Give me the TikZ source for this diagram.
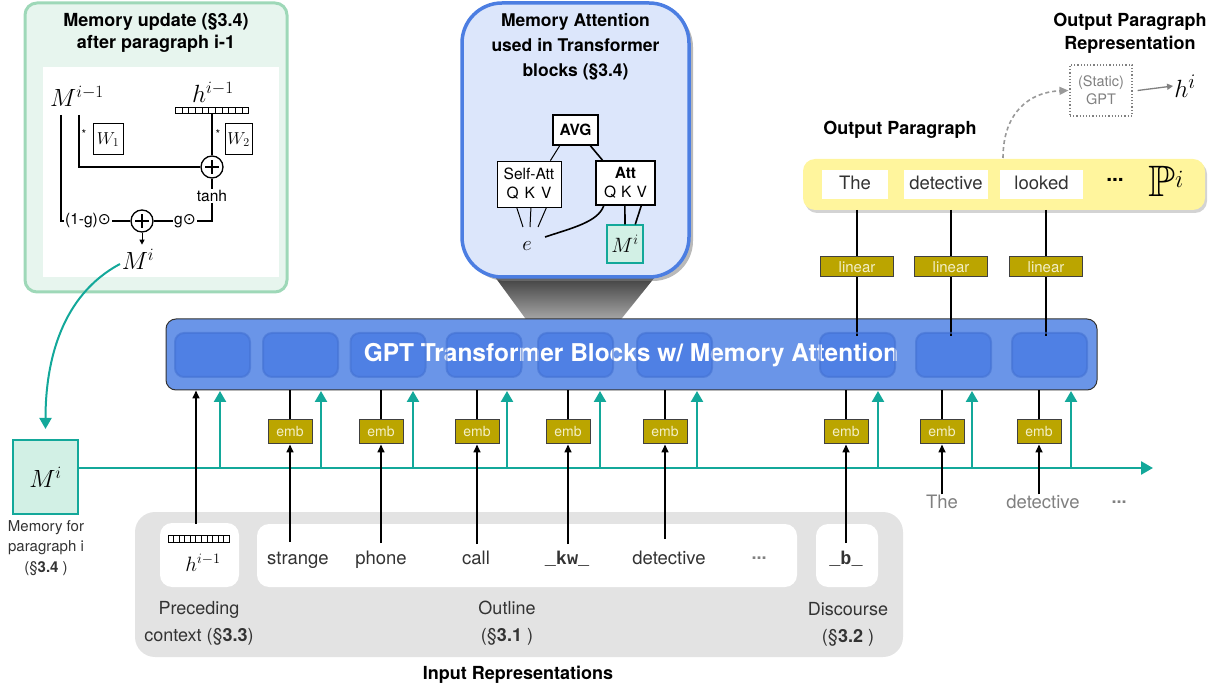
\documentclass[tikz,border=0pt]{standalone}
\usepackage{fontspec}
\setmainfont{TeX Gyre Heros}
\setmonofont{Liberation Mono}
\newfontfamily\dejavu{DejaVu Sans}
\usepackage{amssymb}
\usetikzlibrary{arrows.meta,shadows,calc}
\newcommand{\fsz}[2]{\fontsize{#1}{#2}\selectfont}
\newcommand{\middots}{\raisebox{0.28em}{...}}
\newcommand{\hadam}{{\dejavu ⊙}}
\definecolor{tealc}{HTML}{13A89A}
\definecolor{mgreenfill}{HTML}{E7F5EE}
\definecolor{mgreenbd}{HTML}{9ED8B8}
\definecolor{mboxfill}{HTML}{D2F0E5}
\definecolor{barfill}{HTML}{6A95E8}
\definecolor{blockfill}{HTML}{4F80E4}
\definecolor{blockbd}{HTML}{4472D2}
\definecolor{attfill}{HTML}{DCE6FB}
\definecolor{attbd}{HTML}{4C7EE2}
\definecolor{embfill}{HTML}{BBA500}
\definecolor{embtext}{HTML}{F3EFC6}
\definecolor{yelfill}{HTML}{FFF59D}
\definecolor{grayarea}{HTML}{E3E3E3}
\definecolor{wordc}{HTML}{333333}
\definecolor{lgtext}{HTML}{808080}
\tikzset{
  tarr/.style={draw=tealc,line width=2.4,-{Triangle[length=11pt,width=12pt]}},
  tline/.style={draw=tealc,line width=2.6},
  barr/.style={draw=black,line width=1.6,-{Triangle[length=8pt,width=7pt]}},
  bline/.style={draw=black,line width=1.6},
  thinln/.style={draw=black,line width=1.2},
  embbox/.style={draw=black!75,line width=1,fill=embfill,text=embtext,minimum width=44,minimum height=24,inner sep=0,font=\fsz{14}{16}},
  linbox/.style={embbox,minimum width=73,minimum height=20,font=\fsz{15}{17}},
  blk/.style={fill=blockfill,rounded corners=9,minimum width=75,minimum height=44,inner sep=0},
  blkbd/.style={draw=blockbd,line width=2,rounded corners=9,minimum width=75,minimum height=44,inner sep=0,draw opacity=0.6},
  word/.style={text=wordc,font=\fsz{18.5}{20},inner sep=1,text height=13,text depth=3.7},
  gword/.style={word,text=lgtext},
  ttl/.style={font=\bfseries\fsz{18}{22},align=center,inner sep=0},
  captxt/.style={text=wordc,font=\fsz{18}{27},align=center,inner sep=0},
  wbox/.style={fill=white,rounded corners=12,inner sep=0},
  mathn/.style={inner sep=1,font=\fsz{21}{24}},
  oplus/.style={circle,draw,line width=1.3,minimum size=22,inner sep=0,fill=white,
    path picture={\draw[line width=1.3] ([xshift=-7pt]path picture bounding box.center) -- ([xshift=7pt]path picture bounding box.center) ([yshift=-7pt]path picture bounding box.center) -- ([yshift=7pt]path picture bounding box.center);}},
  hvec/.style={draw,line width=0.8,inner sep=0,minimum height=6,fill=white,
    path picture={\foreach \k in {1,...,10}{\draw[line width=0.6] ($(path picture bounding box.south west)!\k/11!(path picture bounding box.south east)$) -- ($(path picture bounding box.north west)!\k/11!(path picture bounding box.north east)$);}}},
  wmat/.style={draw,line width=1,minimum width=30,minimum height=31,inner sep=0,font=\fsz{18}{20}},
  smalltxt/.style={font=\fsz{15.5}{18},inner sep=1},
}
\begin{document}
\begin{tikzpicture}[x=1pt,y=-1pt]
\useasboundingbox (0,0) rectangle (1224,692);

% ---------------- memory update box ----------------
\node[draw=mgreenbd,fill=mgreenfill,line width=3,rounded corners=12,minimum width=262,minimum height=289,inner sep=0] (mub) at (156,147.5) {};
\node[ttl] (mut) at (156,33) {Memory update (§3.4)\\after paragraph i-1};
\node[fill=white,minimum width=236,minimum height=210,inner sep=0] (muw) at (161,172) {};
\node[mathn,font=\fsz{24}{26}] (mprev) at (77,96) {$M^{i-1}$};
\node[mathn,font=\fsz{24}{26}] (hprev) at (213,92) {$h^{i-1}$};
\node[hvec,minimum width=73] (hv1) at (212,110) {};
\node[wmat] (w1) at (108,139.5) {$W_1$};
\node[wmat,minimum width=27] (w2) at (238.5,139.5) {$W_2$};
\node[inner sep=0,font=\fsz{12}{12}] (st1) at (84,134) {*};
\node[inner sep=0,font=\fsz{12}{12}] (st2) at (218,134) {*};
\node[oplus] (op1) at (212,167) {};
\node[smalltxt] (tanh) at (212,196) {tanh};
\node[oplus] (op2) at (142,221) {};
\node[smalltxt] (omg) at (88,221) {(1-g)\hadam};
\node[smalltxt] (gd) at (185,221) {g\hadam};
\node[mathn,font=\fsz{23}{25}] (mi1) at (138,259) {$M^i$};
\coordinate (ma) at (61,115);
\coordinate (mb) at (79,115);
\draw[thinln] (ma) |- (omg.west);
\draw[thinln] (mb) |- (op1.west);
\draw[thinln] (hv1.south) -- (op1.north);
\draw[thinln] (op1.south) -- (tanh.north);
\draw[thinln] (tanh.south) |- (gd.east);
\draw[thinln] (omg.east) -- (op2.west);
\draw[thinln] (op2.east) -- (gd.west);
\draw[line width=1,-{Triangle[length=5pt,width=5pt]}] (op2.south) -- ($(op2.south)+(0,12)$);

% ---------------- memory box left ----------------
\node[draw=tealc,fill=mboxfill,line width=2,minimum width=65,minimum height=74,inner sep=0,font=\fsz{25}{27}] (mbox) at (45.5,477) {$M^i$};
\node[text=wordc,font=\fsz{15}{20.5},align=center,inner sep=0] (mcap) at (46,548) {Memory for\\paragraph i\\(§\textbf{3.4} )};
\coordinate (cstart) at (120,264);
\coordinate (cend) at (45.5,429);
\draw[draw=tealc,line width=2,-{Triangle[length=11pt,width=12pt]}] (cstart) .. controls (62,295) and (45.5,360) .. (cend);

% ---------------- attention zoom ----------------
\shade[top color=black!75,bottom color=black!22] (495,277) -- (655,277) -- (610,333) -- (536,333) -- cycle;
\node[draw=attbd,fill=attfill,line width=3.5,rounded corners=40,minimum width=227,minimum height=274,inner sep=0,
  drop shadow={shadow xshift=4pt,shadow yshift=-4pt,opacity=0.55}] (attb) at (575.5,140) {};
\node[ttl,font=\bfseries\fsz{17.5}{22}] (at1) at (575.5,22) {Memory Attention};
\node[ttl,font=\bfseries\fsz{17.5}{22}] (at2) at (575.5,45) {used in Transformer};
\node[ttl,font=\bfseries\fsz{17.5}{22}] (at3) at (575.5,72) {blocks (§3.4)};
\node[draw,fill=white,line width=1.6,minimum width=45,minimum height=30,inner sep=0,font=\bfseries\fsz{15.5}{17}] (avg) at (575.5,130) {AVG};
\node[draw,fill=white,line width=0.8,minimum width=64,minimum height=46,inner sep=0,align=center,font=\fsz{15.5}{19}] (sa) at (529,184) {Self-Att\\Q\hspace{6pt}K\hspace{6pt}V};
\node[draw,fill=white,line width=1.6,minimum width=59,minimum height=44,inner sep=0,align=center,font=\fsz{15.5}{19}] (att) at (625.5,183) {\textbf{Att}\\Q\hspace{5pt}K\hspace{5pt}V};
\node[inner sep=1,font=\fsz{21}{22}] (ee) at (527,246) {$e$};
\node[draw=tealc,fill=mboxfill,line width=1.2,minimum width=36,minimum height=38,inner sep=0,font=\fsz{20}{21}] (mia) at (625,244) {$M^i$};
\draw[line width=1] ($(avg.south west)!0.16!(avg.south east)$) -- ($(sa.north west)!0.83!(sa.north east)$);
\draw[line width=1.6] ($(avg.south west)!0.82!(avg.south east)$) -- ($(att.north west)!0.12!(att.north east)$);
\draw[line width=1] ($(sa.south west)!0.31!(sa.south east)$) -- ($(ee)+(-4,-19)$);
\draw[line width=1] ($(sa.south west)!0.53!(sa.south east)$) -- ($(ee)+(3,-19)$);
\draw[line width=1] ($(sa.south west)!0.77!(sa.south east)$) -- ($(ee)+(11,-19)$);
\draw[line width=1.6] ($(att.south west)!0.14!(att.south east)$) .. controls (598,222) and (572,228) .. ($(ee)+(18,-9)$);
\draw[line width=1.6] ($(att.south west)!0.49!(att.south east)$) -- (mia.north);
\draw[line width=1.6] ($(att.south west)!0.76!(att.south east)$) -- ($(mia.north)!0.55!(mia.north east)$);

% ---------------- output paragraph ----------------
\node[fill=yelfill,rounded corners=12,minimum width=402,minimum height=51,inner sep=0,
  drop shadow={shadow xshift=2pt,shadow yshift=-3pt,opacity=0.35}] (yel) at (1004,184.5) {};
\node[fill=white,minimum width=66,minimum height=29,inner sep=0] (ow1) at (855,184.5) {};
\node[fill=white,minimum width=84,minimum height=29,inner sep=0] (ow2) at (946,184.5) {};
\node[fill=white,minimum width=83,minimum height=29,inner sep=0] (ow3) at (1041.5,184.5) {};
\node[word] (owt1) at (ow1) {The};
\node[word] (owt2) at (ow2) {detective};
\node[word] (owt3) at (ow3) {looked};
\node[inner sep=0,font=\bfseries\fsz{21}{22}] (odots) at (1115,183) {\middots};
\node[inner sep=0,font=\fsz{44}{46}] (pp) at (1166,181) {$\mathbb{P}^i$};
\node[ttl] (opt) at (900,130) {Output Paragraph};
\node[ttl,font=\bfseries\fsz{18}{23}] (oprt) at (1130,33) {Output Paragraph\\Representation};
\node[draw=lgtext,dotted,line width=1.2,minimum width=62,minimum height=51,inner sep=0,text=lgtext,align=center,font=\fsz{14.5}{18}] (gpt) at (1101,90.5) {(Static)\\GPT};
\node[inner sep=1,font=\fsz{30}{31}] (hi) at (1185,86) {$h^i$};
\draw[draw=lgtext,line width=1.3,-{Triangle[length=6pt,width=6pt]}] ($(gpt.east)+(5,0)$) -- (hi.west);
\coordinate (dstart) at (1003,158);
\draw[draw=lgtext!80,line width=1.6,dash pattern=on 4pt off 3pt,-{Triangle[length=9pt,width=8pt]}] (dstart) .. controls (1003,112) and (1030,92) .. ($(gpt.west)+(-1,0)$);

% ---------------- transformer bar ----------------
\node[draw=black!80,fill=barfill,line width=1,rounded corners=10,minimum width=931,minimum height=71,inner sep=0] (bar) at (631.5,354.5) {};
\foreach \xx [count=\i] in {212.5,300.5,388,484,575.5,674.5,857.5,953.5,1049.5}{
  \node[blk] (blk\i) at (\xx,355) {};
}
\foreach \xx/\nm in {857/1,951/2,1046/3}{
  \node[linbox] (lin\nm) at (\xx,267) {linear};
  \coordinate (ltop\nm) at (\xx,210);
  \coordinate (lbot\nm) at (\xx,336);
  \draw[bline] (ltop\nm) -- (lin\nm.north);
  \draw[bline] (lin\nm.south) -- (lbot\nm);
}
\node[inner sep=0,text=white,font=\bfseries\fsz{24.5}{26}] (bart) at (631,355) {GPT Transformer Blocks w/ Memory Attention};
\foreach \xx [count=\i] in {212.5,300.5,388,484,575.5,674.5,857.5,953.5,1049.5}{
  \node[blkbd] (blkb\i) at (\xx,355) {};
}

% ---------------- teal memory line ----------------
\coordinate (tstart) at (78,468);
\coordinate (tend) at (1153,468);
\draw[tline,-{Triangle[length=12pt,width=13pt]}] (tstart) -- (tend);
\foreach \xx [count=\i] in {220,321,413,507,600,697,878,972,1071}{
  \coordinate (tb\i) at (\xx,468);
  \coordinate (tt\i) at (\xx,391);
  \draw[tarr] (tb\i) -- (tt\i);
}

% ---------------- input area ----------------
\node[fill=grayarea,rounded corners=20,minimum width=768,minimum height=145,inner sep=0] (inarea) at (519,584.5) {};
\node[wbox,minimum width=79,minimum height=64] (hbox) at (199.5,555) {};
\node[wbox,minimum width=540,minimum height=63] (obox) at (527,555.5) {};
\node[wbox,minimum width=62,minimum height=63] (dbox) at (847,555.5) {};
\node[hvec,minimum width=61,minimum height=7] (hv2) at (198.5,538.5) {};
\node[mathn] (hin) at (203,563) {$h^{i-1}$};
\node[word] (wstr) at (298,560) {strange};
\node[word] (wpho) at (381,560) {phone};
\node[word] (wcal) at (476,560) {call};
\node[word,font=\ttfamily\bfseries\fsz{18.5}{20}] (wkw) at (567,560) {\_kw\_};
\node[word] (wdet) at (669,560) {detective};
\node[word,text=lgtext,font=\bfseries\fsz{18}{20}] (wdots) at (759,560) {\middots};
\node[word,font=\ttfamily\bfseries\fsz{18.5}{20}] (wb) at (846,560) {\_b\_};
\node[captxt] (cpre) at (199,623.5) {Preceding\\context (§\textbf{3.3})};
\node[captxt] (cout) at (507,623.5) {Outline\\(§\textbf{3.1} )};
\node[captxt] (cdis) at (848,624) {Discourse\\(§\textbf{3.2} )};
\node[ttl] (inrep) at (518,675) {Input Representations};

\node[gword] (gthe) at (942,504) {The};
\node[gword] (gdet) at (1043,504) {detective};
\node[gword,font=\bfseries\fsz{18}{20}] (gdots) at (1119,504) {\middots};

% ---------------- emb boxes and connectors ----------------
\foreach \xx/\nm in {290/1,381/2,477/3,568/4,665/5,846/6,942/7,1039/8}{
  \node[embbox] (emb\nm) at (\xx,432) {emb};
  \draw[bline] (emb\nm.north) -- (emb\nm.north |- bar.south);
}
\coordinate (hup) at (196,524);
\draw[barr] (hup) -- (hup |- bar.south);
\foreach \nm/\yy in {1/542,2/543,3/544,4/544,5/539,6/543}{
  \coordinate (wt\nm) at (emb\nm.south |- 0,\yy);
  \draw[barr] (wt\nm) -- (emb\nm.south);
}
\draw[barr] (emb7.south |- gthe.north) -- (emb7.south);
\draw[barr] (emb8.south |- gdet.north) -- (emb8.south);
\end{tikzpicture}
\end{document}
